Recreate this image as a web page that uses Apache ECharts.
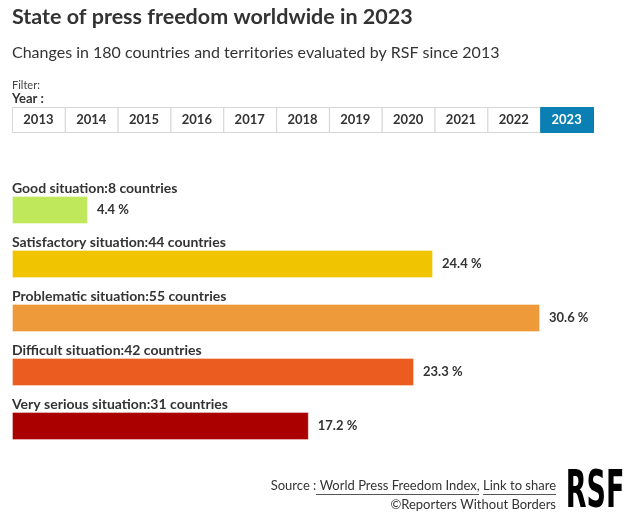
<!DOCTYPE html>
<html><head><meta charset="utf-8">
<script src="https://cdn.jsdelivr.net/npm/echarts@6/dist/echarts.min.js"></script>
<style>html,body{margin:0;padding:0;background:#fff}#c{width:635px;height:522px}</style>
</head><body><div id="c"></div>
<script>
var categories = ['Good situation', 'Satisfactory situation', 'Problematic situation', 'Difficult situation', 'Very serious situation'];
var countries = [8, 44, 55, 42, 31];
var percents = [4.4, 24.4, 30.6, 23.3, 17.2];
var colors = ['#bfe85b', '#f1c400', '#ee9a3a', '#ea5c20', '#aa0000'];
var years = ['2013','2014','2015','2016','2017','2018','2019','2020','2021','2022','2023'];
var selectedYear = '2023';

var FONT = 'Lato, "Open Sans", sans-serif';
var chart = echarts.init(document.getElementById('c'), null, {renderer: 'canvas'});

var graphics = [];
var bx0 = 12, bx1 = 593, by = 107, bh = 25;
var bw = (bx1 - bx0) / years.length;
years.forEach(function (y, i) {
  var sel = y === selectedYear;
  graphics.push({
    type: 'rect', shape: {x: bx0 + i * bw + 0.5, y: by + 0.5, width: bw, height: bh},
    style: {fill: sel ? '#0a7fb4' : '#fff', stroke: sel ? '#0a7fb4' : '#d6d6d6', lineWidth: 1}
  });
  graphics.push({
    type: 'text', x: bx0 + i * bw + bw / 2, y: by + bh / 2,
    style: {text: y, fill: sel ? '#fff' : '#333', font: 'bold 13px ' + FONT, align: 'center', verticalAlign: 'middle'}
  });
});
graphics.push({type: 'text', x: 12, y: 17, style: {text: 'State of press freedom worldwide in 2023', fill: '#333', font: 'bold 21.5px ' + FONT, verticalAlign: 'middle'}});
graphics.push({type: 'text', x: 12, y: 53, style: {text: 'Changes in 180 countries and territories evaluated by RSF since 2013', fill: '#333', font: '16px ' + FONT, verticalAlign: 'middle'}});
graphics.push({type: 'text', x: 12, y: 85, style: {text: 'Filter:', fill: '#444', font: '11px ' + FONT, verticalAlign: 'middle'}});
graphics.push({type: 'text', x: 12, y: 99, style: {text: 'Year :', fill: '#333', font: 'bold 13px ' + FONT, verticalAlign: 'middle'}});
graphics.push({type: 'text', x: 556, y: 486, style: {text: 'Source : World Press Freedom Index, Link to share', fill: '#333', font: '13px ' + FONT, align: 'right', verticalAlign: 'middle'}});
graphics.push({type: 'line', shape: {x1: 316, y1: 494.5, x2: 479, y2: 494.5}, style: {stroke: '#555', lineWidth: 1}});
graphics.push({type: 'line', shape: {x1: 483, y1: 494.5, x2: 556, y2: 494.5}, style: {stroke: '#555', lineWidth: 1}});
graphics.push({type: 'text', x: 556, y: 505, style: {text: '©Reporters Without Borders', fill: '#333', font: '13px ' + FONT, align: 'right', verticalAlign: 'middle'}});
graphics.push({type: 'text', x: 595, y: 494, scaleX: 0.6, scaleY: 1.02, style: {text: 'RSF', fill: '#000', font: 'bold 50px "DejaVu Sans Condensed", "DejaVu Sans", sans-serif', align: 'center', verticalAlign: 'middle'}});

chart.setOption({
  animation: false,
  textStyle: {fontFamily: FONT},
  grid: {left: 12, top: 183, width: 528, height: 270, containLabel: false},
  xAxis: {type: 'value', min: 0, max: Math.max.apply(null, percents), show: false},
  yAxis: {type: 'category', inverse: true, data: categories, show: false},
  graphic: graphics,
  series: [
    {
      type: 'bar', barWidth: 28, barGap: '-100%',
      data: percents.map(function (v, i) { return {value: v, itemStyle: {color: colors[i]}}; }),
      itemStyle: {borderColor: 'rgba(255,255,255,0.35)', borderWidth: 1},
      label: {show: true, position: 'right', distance: 9, formatter: function (p) { return p.value + ' %'; }, color: '#333', fontWeight: 'bold', fontSize: 13, fontFamily: FONT}
    },
    {
      type: 'bar', barWidth: 28, barGap: '-100%', silent: true,
      data: percents.map(function (v) { return {value: v, itemStyle: {color: 'rgba(0,0,0,0)'}}; }),
      label: {show: true, position: [0, -8], verticalAlign: 'middle', align: 'left',
        formatter: function (p) { return categories[p.dataIndex] + ':' + countries[p.dataIndex] + ' countries'; },
        color: '#333', fontWeight: 'bold', fontSize: 14, fontFamily: FONT}
    }
  ]
});
</script></body></html>
